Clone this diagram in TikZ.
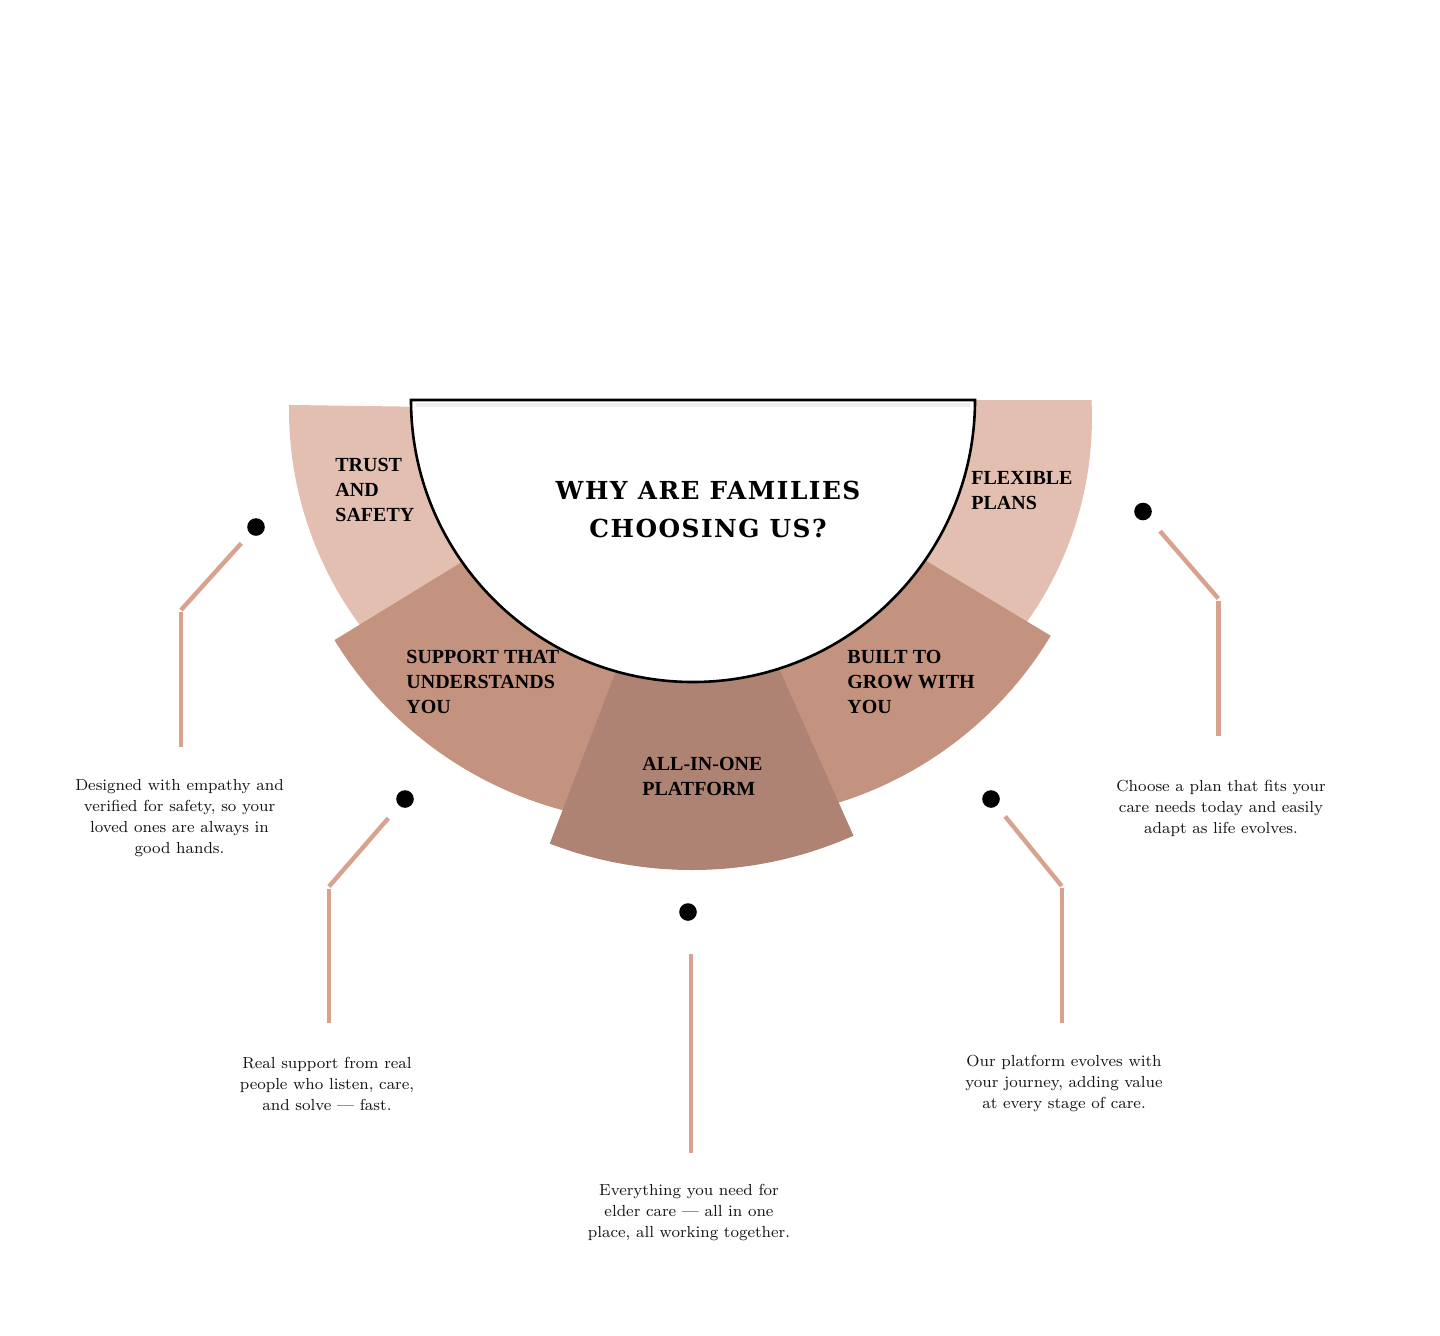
\documentclass[tikz,border=0pt]{standalone}
\usepackage{fontspec}
\newfontfamily\titlefamily[LetterSpace=6]{DejaVu Serif}
\newfontfamily\labelfamily{Liberation Serif}
\newcommand\descfont{\fontsize{8}{10.5}\selectfont\addfontfeatures{LetterSpace=3}}
\newcommand\labfont{\labelfamily\bfseries\fontsize{10}{12.5}\selectfont}
\newcommand\ttlfont{\titlefamily\bfseries\fontsize{12.4}{19}\selectfont}
\definecolor{seglightc}{HTML}{E3BFB1}
\definecolor{segmidc}{HTML}{C4937F}
\definecolor{segdarkc}{HTML}{AE8373}
\definecolor{connc}{HTML}{D9A28E}
\begin{document}
\begin{tikzpicture}[x=0.5pt,y=0.5pt,yscale=-1,
  seglight/.style={fill=seglightc},
  segmid/.style={fill=segmidc},
  segdark/.style={fill=segdarkc},
  conn/.style={draw=connc, line width=2.2pt},
  dotnode/.style={circle, fill=black, inner sep=0pt, minimum size=8.8pt},
  desc/.style={align=center, inner sep=0pt, text=black!92, font=\descfont},
  seglabel/.style={align=left, inner sep=0pt, anchor=west, font=\labfont},
  titlestyle/.style={align=center, inner sep=0pt, font=\ttlfont}
]
\useasboundingbox (0,0) rectangle (1440,1335);

% outer ring segments (each an exploded sector)
\fill[seglight] (651,410) -- ++(135.8:362) arc[start angle=135.8, end angle=180.8, radius=362] -- cycle;
\fill[seglight] (740,400) -- (1091.5,400.2) arc[start angle=-2.9, end angle=42.1, radius=352] -- (740,418) -- cycle;
\fill[segmid] (661,440) -- ++(95:383) arc[start angle=95, end angle=148.5, radius=383] -- cycle;
\fill[segmid] (725,440) -- ++(31:380) arc[start angle=31, end angle=86, radius=380] -- cycle;
\fill[segdark] (692,473) -- ++(66:397) arc[start angle=66, end angle=111, radius=397] -- cycle;

% central half disc
\fill[white] (411,400) arc[start angle=180, end angle=0, radius=282] -- cycle;
\draw[black!7, line width=2pt] (416,404.5) -- (970,404.5);
\draw[black, line width=1.3pt] (411,400) arc[start angle=180, end angle=0, radius=282] -- cycle;

% title
\node[titlestyle] (title) at (708,509) {WHY ARE FAMILIES\\CHOOSING US?};

% segment labels
\node[seglabel] (l1) at (335,490) {TRUST\\AND\\SAFETY};
\node[seglabel] (l5) at (971,490.5) {FLEXIBLE\\PLANS};
\node[seglabel] (l2) at (406,682) {SUPPORT THAT\\UNDERSTANDS\\YOU};
\node[seglabel] (l4) at (847,682) {BUILT TO\\GROW WITH\\YOU};
\node[seglabel] (l3) at (642,776.5) {ALL-IN-ONE\\PLATFORM};

% dots
\node[dotnode] (d1) at (256,527) {};
\node[dotnode] (d2) at (405,799) {};
\node[dotnode] (d3) at (688,912) {};
\node[dotnode] (d4) at (991,799) {};
\node[dotnode] (d5) at (1143,511.5) {};

% connector points
\coordinate (k1) at (181,610);    \coordinate (k1b) at (181,612);    \coordinate (e1) at (181,747);
\coordinate (k2) at (329,886.5);  \coordinate (k2b) at (329,888.5);  \coordinate (e2) at (329,1023);
\coordinate (k3) at (691,954);    \coordinate (e3) at (691,1153);
\coordinate (k4) at (1061.7,886); \coordinate (k4b) at (1061.7,888); \coordinate (e4) at (1061.7,1023);
\coordinate (k5) at (1218.3,598.5); \coordinate (k5b) at (1218.3,600.5); \coordinate (e5) at (1218.3,736);

\draw[conn, shorten <=11pt] (d1.center) -- (k1);
\draw[conn] (k1b) -- (e1);
\draw[conn, shorten <=12.7pt] (d2.center) -- (k2);
\draw[conn] (k2b) -- (e2);
\draw[conn] (k3) -- (e3);
\draw[conn, shorten <=11.2pt] (d4.center) -- (k4);
\draw[conn] (k4b) -- (e4);
\draw[conn, shorten <=13pt] (d5.center) -- (k5);
\draw[conn] (k5b) -- (e5);

% descriptions
\node[desc] (t1) at (179.5,818.5) {Designed with empathy and\\verified for safety, so your\\loved ones are always in\\good hands.};
\node[desc] (t2) at (327,1083.5) {Real support from real\\people who listen, care,\\and solve — fast.};
\node[desc] (t3) at (689,1212) {Everything you need for\\elder care — all in one\\place, all working together.};
\node[desc] (t4) at (1064,1083.5) {Our platform evolves with\\your journey, adding value\\at every stage of care.};
\node[desc] (t5) at (1221,808) {Choose a plan that fits your\\care needs today and easily\\adapt as life evolves.};
\end{tikzpicture}
\end{document}
